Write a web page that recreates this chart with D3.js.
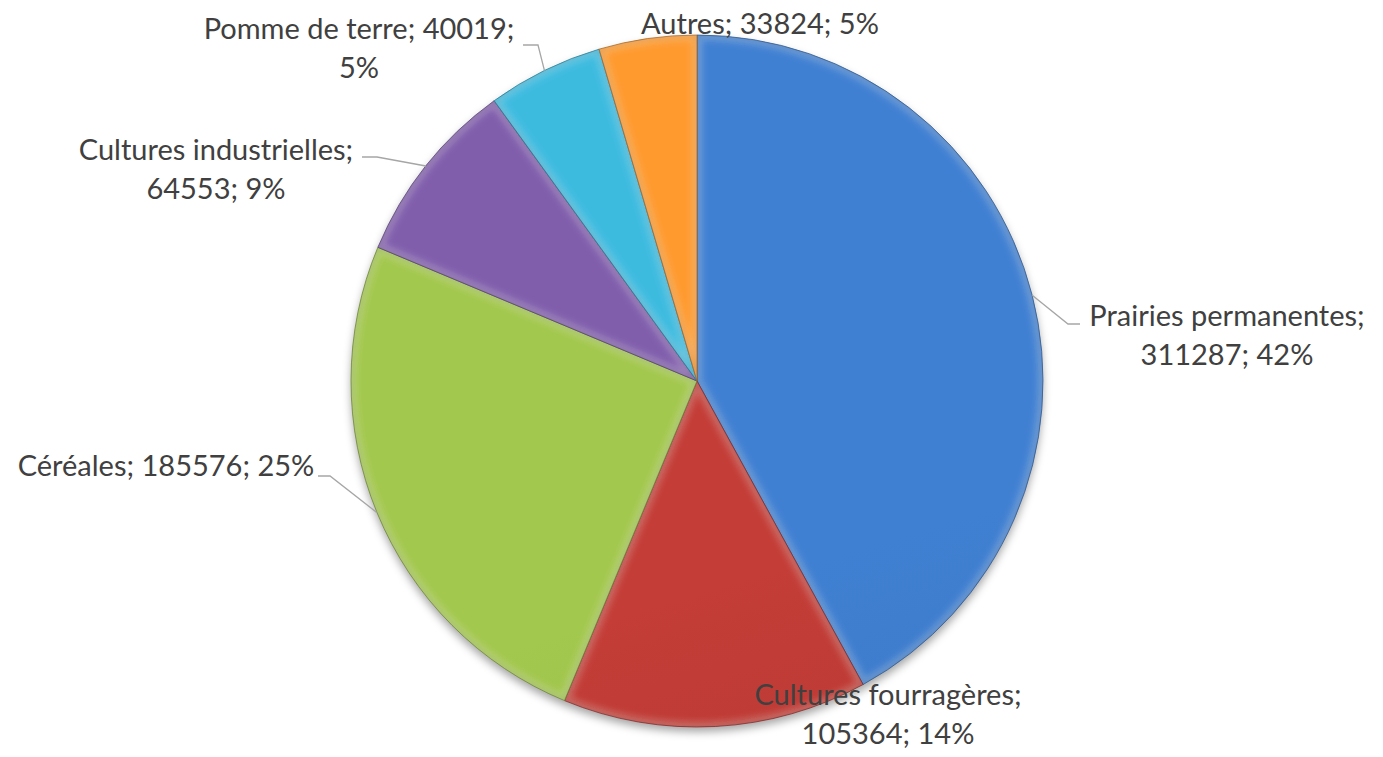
<!DOCTYPE html>
<html><head><meta charset="utf-8">
<script src="https://cdn.jsdelivr.net/npm/d3@7"></script>
<style>html,body{margin:0;padding:0;background:#fff;}svg{display:block;}</style>
</head><body>
<svg id="chart" width="1383" height="757"></svg>
<script>
// ---- data ----
const categories = ["Prairies permanentes","Cultures fourragères","Céréales","Cultures industrielles","Pomme de terre","Autres"];
const values = [311287,105364,185576,64553,40019,33824];
const colors = ["#3D7BC9","#BC3A35","#9CC04B","#7C5AA5","#3AB3D6","#F5942D"];
// label layout: parts on first line, text centre x, first baseline y, leader elbow/end (null = none)
const labelBreak = [1,1,3,1,2,3];
const labelCx = [1227,888,166,216,359,760];
const labelY = [326,705,476,160,39,34];
const leaderElbow = [[1068,324],null,[330,476],[377,157],[538,45],null];
const leaderEnd = [[1080,324],null,[318,476],[362,157],[523,45],null];

const W=1383,H=757,cx=697,cy=381,R=346;
const svg=d3.select("#chart");
const defs=svg.append("defs");
const total=d3.sum(values);
const pct=d3.format(".0%");

const pie=d3.pie().sort(null).value(d=>d)(values);
const arc=d3.arc().innerRadius(0).outerRadius(R);

// drop shadow
const sh=defs.append("filter").attr("id","shadow").attr("x","-20%").attr("y","-20%").attr("width","140%").attr("height","140%");
sh.append("feGaussianBlur").attr("stdDeviation",4);
// bevel blur
const bv=defs.append("filter").attr("id","bevel").attr("x","-20%").attr("y","-20%").attr("width","140%").attr("height","140%");
bv.append("feGaussianBlur").attr("stdDeviation",3);

colors.forEach((c,i)=>{
  const g=defs.append("linearGradient").attr("id","g"+i).attr("gradientUnits","userSpaceOnUse")
    .attr("x1",cx-R*0.3).attr("y1",cy-R).attr("x2",cx+R*0.3).attr("y2",cy+R);
  g.append("stop").attr("offset","0%").attr("stop-color",d3.color(c).brighter(0.12));
  g.append("stop").attr("offset","100%").attr("stop-color",d3.color(c).darker(0.3));
});

const root=svg.append("g").attr("transform",`translate(${cx},${cy})`);
root.append("circle").attr("r",R).attr("cy",5).attr("fill","rgba(0,0,0,0.35)").attr("filter","url(#shadow)");

pie.forEach((d,i)=>{
  const cp=defs.append("clipPath").attr("id","clip"+i);
  cp.append("path").attr("d",arc(d));
  const g=root.append("g");
  g.append("path").attr("d",arc(d)).attr("fill",`url(#g${i})`);
  // bevel highlight along edges
  g.append("path").attr("d",arc(d)).attr("clip-path",`url(#clip${i})`)
    .attr("fill","none").attr("stroke","rgba(255,255,255,0.28)").attr("stroke-width",10).attr("filter","url(#bevel)");
  g.append("path").attr("d",arc(d)).attr("clip-path",`url(#clip${i})`)
    .attr("fill","none").attr("stroke",d3.color(colors[i]).darker(1)).attr("stroke-opacity",0.5).attr("stroke-width",3).attr("filter","url(#bevel)");
  g.append("path").attr("d",arc(d)).attr("fill","none").attr("stroke",d3.color(colors[i]).darker(1.2)).attr("stroke-width",1).attr("stroke-opacity",0.7);
});

// leaders
pie.forEach((d,i)=>{
  if(!leaderElbow[i]) return;
  const a=(d.startAngle+d.endAngle)/2;
  const p0=[cx+R*Math.sin(a), cy-R*Math.cos(a)];
  svg.append("polyline").attr("points",[p0,leaderElbow[i],leaderEnd[i]].map(p=>p.join(",")).join(" "))
    .attr("fill","none").attr("stroke","#a6a6a6").attr("stroke-width",1.3);
});

// labels
pie.forEach((d,i)=>{
  const parts=[categories[i], String(values[i]), pct(values[i]/total)];
  const b=labelBreak[i];
  const lines=[];
  const l1=parts.slice(0,b).join("; ")+(b<3?";":"");
  lines.push(l1);
  if(b<3) lines.push(parts.slice(b).join("; "));
  const t=svg.append("text").attr("x",labelCx[i]).attr("y",labelY[i]).attr("text-anchor","middle")
    .attr("font-family","Lato, 'Noto Sans', sans-serif").attr("font-size",29).attr("fill","#404040");
  lines.forEach((s,k)=>t.append("tspan").attr("x",labelCx[i]).attr("dy",k?39:0).text(s));
});
</script>
</body></html>
